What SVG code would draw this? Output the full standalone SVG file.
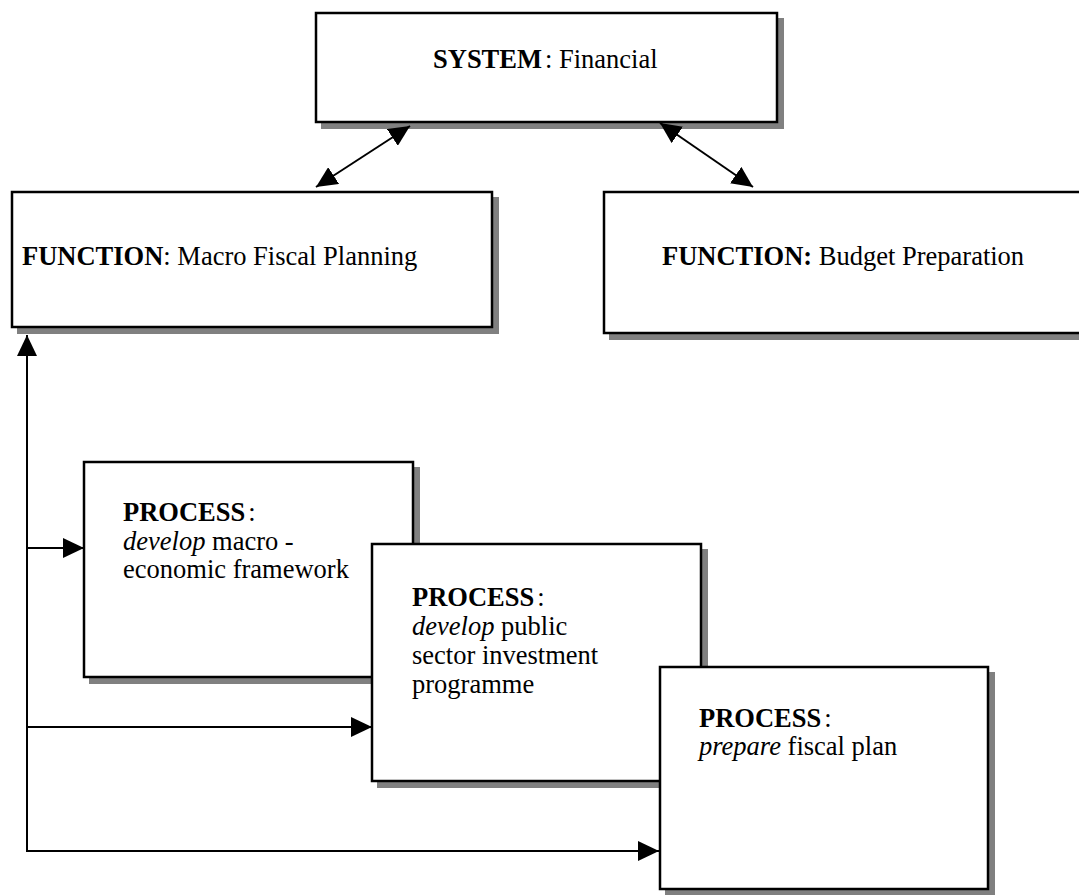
<svg xmlns="http://www.w3.org/2000/svg" width="1079" height="895" viewBox="0 0 1079 895">
  <style>
    .box { fill: #ffffff; stroke: #000000; stroke-width: 2.5; }
    .shadow { fill: #808080; stroke: none; }
    .conn { fill: none; stroke: #000000; stroke-width: 2; }
    text { font-family: "Liberation Serif", "Times New Roman", serif; font-size: 26.5px; fill: #000000; }
    .b { font-weight: bold; }
    .i { font-style: italic; }
  </style>
  <defs>
    <marker id="head" viewBox="0 0 21 20" refX="21" refY="10" markerWidth="21" markerHeight="20" markerUnits="userSpaceOnUse" orient="auto-start-reverse">
      <path d="M0,0 L21,10 L0,20 z" fill="#000000"/>
    </marker>
  </defs>

  <rect width="1079" height="895" fill="#ffffff"/>

  <!-- system level -->
  <g id="system-financial">
    <rect class="shadow" x="321" y="18" width="463" height="111"/>
    <rect class="box" x="316" y="13" width="461" height="109"/>
    <text x="433" y="68"><tspan class="b">SYSTEM</tspan><tspan dx="3">: Financial</tspan></text>
  </g>

  <!-- function level -->
  <g id="function-macro-fiscal">
    <rect class="shadow" x="17" y="197" width="482" height="137"/>
    <rect class="box" x="12" y="192" width="480" height="135"/>
    <text x="22" y="265"><tspan class="b">FUNCTION</tspan><tspan>: Macro Fiscal Planning</tspan></text>
  </g>

  <g id="function-budget">
    <rect class="shadow" x="609" y="197" width="484" height="143"/>
    <rect class="box" x="604" y="192" width="482" height="141"/>
    <text x="662" y="265"><tspan class="b">FUNCTION:</tspan><tspan> Budget Preparation</tspan></text>
  </g>

  <!-- connectors -->
  <g id="connectors">
    <line class="conn" x1="410" y1="126" x2="316" y2="187" marker-start="url(#head)" marker-end="url(#head)"/>
    <line class="conn" x1="660" y1="123" x2="753" y2="187" marker-start="url(#head)" marker-end="url(#head)"/>
    <polyline class="conn" points="659,851 27,851 27,335" marker-end="url(#head)"/>
    <line class="conn" x1="27" y1="548" x2="84" y2="548" marker-end="url(#head)"/>
    <line class="conn" x1="27" y1="727" x2="372" y2="727" marker-end="url(#head)"/>
    <line class="conn" x1="640" y1="851" x2="659" y2="851" marker-end="url(#head)"/>
  </g>

  <!-- process level -->
  <g id="process-macro-framework">
    <rect class="shadow" x="89" y="467" width="331" height="217"/>
    <rect class="box" x="84" y="462" width="329" height="215"/>
    <text x="123" y="521"><tspan class="b">PROCESS</tspan><tspan dx="3">:</tspan></text>
    <text x="123" y="550"><tspan class="i">develop</tspan><tspan> macro -</tspan></text>
    <text x="123" y="578">economic framework</text>
  </g>

  <g id="process-investment-programme">
    <rect class="shadow" x="377" y="549" width="331" height="239"/>
    <rect class="box" x="372" y="544" width="329" height="237"/>
    <text x="412" y="606"><tspan class="b">PROCESS</tspan><tspan dx="3">:</tspan></text>
    <text x="412" y="635"><tspan class="i">develop</tspan><tspan> public</tspan></text>
    <text x="412" y="664">sector investment</text>
    <text x="412" y="693">programme</text>
  </g>

  <g id="process-fiscal-plan">
    <rect class="shadow" x="665" y="672" width="330" height="224"/>
    <rect class="box" x="660" y="667" width="328" height="222"/>
    <text x="699" y="727"><tspan class="b">PROCESS</tspan><tspan dx="3">:</tspan></text>
    <text x="699" y="755"><tspan class="i">prepare</tspan><tspan> fiscal plan</tspan></text>
  </g>
</svg>
